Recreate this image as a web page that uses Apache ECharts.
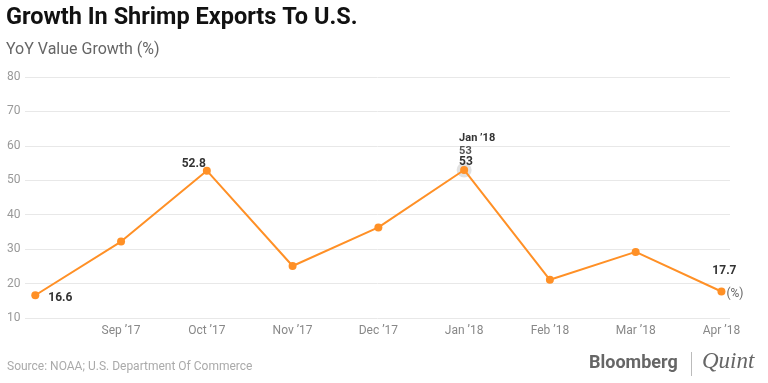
<!DOCTYPE html>
<html><head><meta charset="utf-8">
<script src="https://cdn.jsdelivr.net/npm/echarts@6/dist/echarts.min.js"></script>
<style>html,body{margin:0;padding:0;background:#fff}#c{width:768px;height:383px}</style>
</head><body><div id="c"></div>
<script>
const categories = ["Aug ’17","Sep ’17","Oct ’17","Nov ’17","Dec ’17","Jan ’18","Feb ’18","Mar ’18","Apr ’18"];
const growth = [16.6, 32.2, 52.8, 25.1, 36.3, 53, 21.1, 29.2, 17.7];
const yTicks = [10, 20, 30, 40, 50, 60, 70, 80];
const labelIdx = [1,2,3,4,5,6,7,8];
const highlightIdx = 5;

const chart = echarts.init(document.getElementById('c'), null, {renderer:'canvas'});
const FONT = 'Roboto';
const data = growth.map((v, i) => {
  const d = {value: [i, v]};
  if (i === 0) d.label = {show:true, position:'right', distance:9, offset:[0,3], formatter:'16.6'};
  if (i === 2) d.label = {show:true, position:'left', distance:0, offset:[3,-7], formatter:'52.8'};
  if (i === highlightIdx) d.label = {
    show:true, position:[-1,-35], align:'left', verticalAlign:'top',
    formatter: '{a|' + categories[i] + '}\n{b|' + v + '}\n{c|' + v + '}',
    rich: {
      a:{fontFamily:FONT, fontSize:11, fontWeight:'bold', color:'#333', lineHeight:14, align:'left'},
      b:{fontFamily:FONT, fontSize:11, color:'#555', lineHeight:12, align:'left'},
      c:{fontFamily:FONT, fontSize:12, fontWeight:'bold', color:'#333', lineHeight:10, align:'left'}
    }
  };
  if (i === growth.length - 1) d.label = {show:true, position:'top', distance:10, offset:[3,0], formatter:'17.7'};
  return d;
});

chart.setOption({
  animation:false,
  title:{
    text:'Growth In Shrimp Exports To U.S.', left:1, top:1,
    textStyle:{fontFamily:FONT, fontSize:23.5, fontWeight:'bold', color:'#111'},
    subtext:'YoY Value Growth (%)', itemGap:12,
    subtextStyle:{fontFamily:FONT, fontSize:16, color:'#666'}
  },
  grid:{left:25, right:38, top:77, bottom:65},
  xAxis:{
    type:'value', min:-0.12, max:8.1,
    axisLine:{show:false}, axisTick:{show:false}, splitLine:{show:false},
    axisLabel:{customValues:labelIdx, formatter:v => categories[v] || '', fontFamily:FONT, fontSize:12, color:'#888', margin:7}
  },
  yAxis:{
    type:'value', min:10, max:80, interval:10,
    axisLine:{show:false}, axisTick:{show:false},
    splitLine:{lineStyle:{color:'#e8e8e8', width:1}},
    axisLabel:{align:'left', margin:18, fontFamily:FONT, fontSize:12, color:'#999', formatter:v => yTicks.includes(v) ? String(v) : ''}
  },
  series:[
    {
      type:'scatter', silent:true, z:1,
      data:[[highlightIdx, growth[highlightIdx]]],
      symbolSize:15, itemStyle:{color:'rgba(0,0,0,0.15)'}
    },
    {
      type:'line', z:3, data:data, symbol:'circle', symbolSize:8,
      lineStyle:{color:'#ff9026', width:2}, itemStyle:{color:'#ff9026'},
      label:{show:false, fontFamily:FONT, fontSize:12, fontWeight:'bold', color:'#333'},
      endLabel:{show:true, formatter:'(%)', distance:5, offset:[0,3], fontFamily:FONT, fontSize:12, color:'#666'}
    }
  ],
  graphic:[
    {type:'text', left:7, top:361, style:{text:'Source: NOAA; U.S. Department Of Commerce', fontFamily:FONT, fontSize:12, fill:'#aaa'}},
    {type:'text', left:589, top:354, style:{text:'Bloomberg', fontFamily:FONT, fontSize:18, fontWeight:'bold', fill:'#666'}},
    {type:'line', shape:{x1:691.5, y1:352, x2:691.5, y2:376}, style:{stroke:'#bbb', lineWidth:1}},
    {type:'text', left:702, top:350, style:{text:'Quint', fontFamily:'Liberation Serif', fontSize:23, fontStyle:'italic', fill:'#666'}}
  ]
});
</script></body></html>
